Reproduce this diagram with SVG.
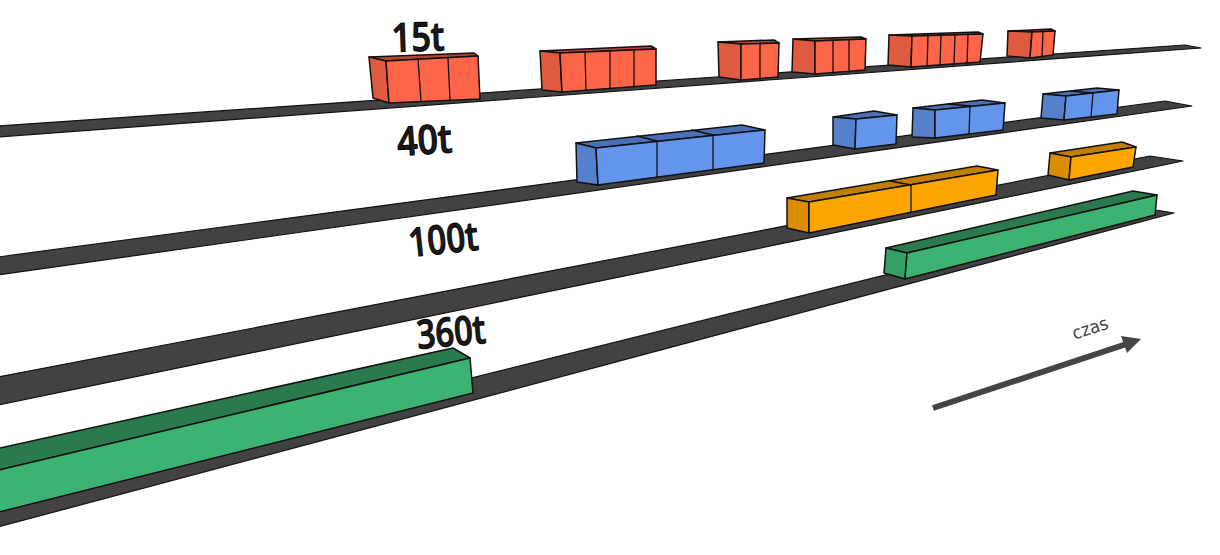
<svg xmlns="http://www.w3.org/2000/svg" width="1220" height="555" viewBox="0 0 1220 555">
<defs>
<style>
.trk{fill:#424242;stroke:#111;stroke-width:1.2;stroke-linejoin:round}
.b polygon{stroke:#111;stroke-width:1.5;stroke-linejoin:round}
.b line{stroke:#111;stroke-width:1.3;stroke-linecap:round}
.r .f{fill:#FF6548}.r .s{fill:#E05A3F}.r .t{fill:#B84530}
.u .f{fill:#6495ED}.u .s{fill:#5580CC}.u .t{fill:#4A6FB5}
.o .f{fill:#FFA500}.o .s{fill:#DA8D00}.o .t{fill:#C27E00}
.g .f{fill:#3CB371}.g .s{fill:#34A064}.g .t{fill:#2A7A4E}
.lbl{font-family:"Open Sans","DejaVu Sans",sans-serif;font-size:40px;font-weight:600;fill:#1a1a1a;stroke:#000;stroke-width:1}
.czas{font-family:"DejaVu Sans Condensed","DejaVu Sans",sans-serif;font-size:18px;fill:#444}
</style>
<filter id="soft" x="-5%" y="-20%" width="110%" height="140%"><feGaussianBlur stdDeviation="0.7"/></filter>
</defs>
<rect width="1220" height="555" fill="#fff"/>

<!-- track 1 -->
<polygon id="track15" class="trk" points="-2,126 1185,45 1201,48 -2,137"/>
<g id="box15a" class="b r">
<polygon class="t" points="369,57 474,53 478,56 386,61"/>
<polygon class="s" points="369,57 386,61 389,103 373,98"/>
<polygon class="f" points="386,61 478,56 480,99 389,103"/>
<line x1="418" y1="59" x2="421" y2="101"/><line x1="448" y1="58" x2="450" y2="100"/>
</g>
<g id="box15b" class="b r">
<polygon class="t" points="540,51 651,46 656,49 560,53"/>
<polygon class="s" points="540,51 560,53 562,92 542,90"/>
<polygon class="f" points="560,53 656,49 656,85 562,92"/>
<line x1="585" y1="52" x2="586" y2="91"/><line x1="610" y1="51" x2="610" y2="89"/><line x1="634" y1="50" x2="634" y2="87"/>
</g>
<g id="box15c" class="b r">
<polygon class="t" points="718,42 774,40 779,43 741,44"/>
<polygon class="s" points="718,42 741,44 741,80 719,77"/>
<polygon class="f" points="741,44 779,43 778,77 741,80"/>
<line x1="760" y1="43" x2="760" y2="79"/>
</g>
<g id="box15d" class="b r">
<polygon class="t" points="793,39 861,37 866,39 815,41"/>
<polygon class="s" points="793,39 815,41 815,74 792,72"/>
<polygon class="f" points="815,41 866,39 865,70 815,74"/>
<line x1="833" y1="40" x2="833" y2="73"/><line x1="849" y1="40" x2="849" y2="72"/>
</g>
<g id="box15e" class="b r">
<polygon class="t" points="889,35 978,32 983,34 912,36"/>
<polygon class="s" points="889,35 912,36 911,67 888,65"/>
<polygon class="f" points="912,36 983,34 980,62 911,67"/>
<line x1="928" y1="36" x2="927" y2="66"/><line x1="941" y1="35" x2="940" y2="65"/><line x1="955" y1="35" x2="954" y2="64"/><line x1="968" y1="34" x2="967" y2="63"/>
</g>
<g id="box15f" class="b r">
<polygon class="t" points="1008,31 1051,29 1055,31 1032,32"/>
<polygon class="s" points="1008,31 1032,32 1030,58 1007,56"/>
<polygon class="f" points="1032,32 1055,31 1053,55 1030,58"/>
<line x1="1043" y1="31" x2="1042" y2="57"/>
</g>
<text id="label15" class="lbl" x="392" y="52" textLength="53" lengthAdjust="spacingAndGlyphs" transform="rotate(-2 392 52)">15t</text>

<!-- track 2 -->
<polygon id="track40" class="trk" points="-2,257 1165,101 1192,106 -2,275"/>
<g id="box40a" class="b u">
<polygon class="t" points="576,143 742,125 765,130 596,148"/>
<polygon class="s" points="576,143 596,148 598,185 577,182"/>
<polygon class="f" points="596,148 765,130 764,163 598,185"/>
<line x1="657" y1="141" x2="657" y2="177"/><line x1="713" y1="135" x2="713" y2="170"/>
<line x1="637" y1="136" x2="657" y2="141"/><line x1="692" y1="130" x2="713" y2="135"/>
</g>
<g id="box40b" class="b u">
<polygon class="t" points="833,117 874,111 897,115 856,119"/>
<polygon class="s" points="833,117 856,119 855,149 833,145"/>
<polygon class="f" points="856,119 897,115 896,144 855,149"/>
</g>
<g id="box40c" class="b u">
<polygon class="t" points="913,108 982,100 1005,103 935,110"/>
<polygon class="s" points="913,108 935,110 935,138 912,137"/>
<polygon class="f" points="935,110 1005,103 1003,130 935,138"/>
<line x1="970" y1="106" x2="969" y2="134"/><line x1="948" y1="104" x2="970" y2="106"/>
</g>
<g id="box40d" class="b u">
<polygon class="t" points="1043,94 1097,88 1119,90 1066,96"/>
<polygon class="s" points="1043,94 1066,96 1064,120 1041,118"/>
<polygon class="f" points="1066,96 1119,90 1117,114 1064,120"/>
<line x1="1093" y1="93" x2="1091" y2="117"/><line x1="1071" y1="91" x2="1093" y2="93"/>
</g>
<text id="label40" class="lbl" x="398" y="156" textLength="55" lengthAdjust="spacingAndGlyphs" transform="rotate(-4 398 156)">40t</text>

<!-- track 3 -->
<polygon id="track100" class="trk" points="-2,377 1150,156 1183,161 -2,405"/>
<g id="box100a" class="b o">
<polygon class="t" points="787,198 977,166 998,170 809,202"/>
<polygon class="s" points="787,198 809,202 809,233 787,228"/>
<polygon class="f" points="809,202 998,170 996,195 809,233"/>
<line x1="911" y1="185" x2="911" y2="212"/><line x1="890" y1="181" x2="911" y2="185"/>
</g>
<g id="box100b" class="b o">
<polygon class="t" points="1050,153 1122,142 1136,147 1071,157"/>
<polygon class="s" points="1050,153 1071,157 1069,180 1048,175"/>
<polygon class="f" points="1071,157 1136,147 1133,167 1069,180"/>
</g>
<text id="label100" class="lbl" x="410" y="257" textLength="70" lengthAdjust="spacingAndGlyphs" transform="rotate(-6 410 257)">100t</text>

<!-- track 4 -->
<polygon id="track360" class="trk" points="-2,496 1150,209 1174,213 -2,527"/>
<g id="box360a" class="b g">
<polygon class="t" points="886,248 1133,191 1157,195 907,253"/>
<polygon class="s" points="886,248 907,253 905,279 884,273"/>
<polygon class="f" points="907,253 1157,195 1155,215 905,279"/>
</g>
<g id="box360b" class="b g">
<polygon class="t" points="-5,449 453,348 470,358 -5,471"/>
<polygon class="f" points="-5,471 470,358 473,393 -5,513"/>
</g>
<text id="label360" class="lbl" x="418" y="349" textLength="69" lengthAdjust="spacingAndGlyphs" transform="rotate(-5 418 349)">360t</text>

<!-- time arrow -->
<g id="connectors" filter="url(#soft)">
<line x1="933" y1="408" x2="1125" y2="344.5" stroke="#444" stroke-width="6"/>
<polygon points="1141,339 1121,336 1127,353" fill="#444"/>
</g>
<text id="czas" class="czas" x="1092" y="334" text-anchor="middle" textLength="37" lengthAdjust="spacingAndGlyphs" transform="rotate(-18 1092 334)">czas</text>
</svg>
